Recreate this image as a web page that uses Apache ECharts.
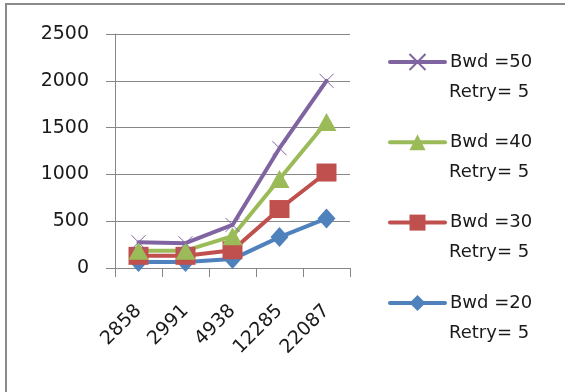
<!DOCTYPE html>
<html>
<head>
<meta charset="utf-8">
<script src="https://cdn.jsdelivr.net/npm/echarts@6/dist/echarts.min.js"></script>
<style>
  html, body { margin: 0; padding: 0; background: #fff; }
  #chart { width: 565px; height: 392px; }
</style>
</head>
<body>
<div id="chart"></div>
<script>
// Packet sizes on the x axis
const categories = ['2858', '2991', '4938', '12285', '22087'];

// One series per bandwidth setting (retry fixed at 5)
const bwd20 = [65, 65, 95, 330, 530];
const bwd30 = [130, 130, 190, 630, 1020];
const bwd40 = [185, 185, 340, 950, 1560];
const bwd50 = [275, 265, 460, 1280, 2000];

const seriesNames = ['Bwd =20', 'Bwd =30', 'Bwd =40', 'Bwd =50'];
const legendOrder = ['Bwd =50', 'Bwd =40', 'Bwd =30', 'Bwd =20'];
const retryLabel = 'Retry= 5';

const yTicks = { min: 0, max: 2500, interval: 500 };

const FONT = 'DejaVu Sans';
const TEXT_COLOR = '#1a1a1a';
const crossPath = 'path://M0,0L10,10M10,0L0,10';

function lineSeries(name, data, color, symbol, size, extra) {
  return Object.assign({
    name: name,
    type: 'line',
    data: data,
    symbol: symbol,
    symbolSize: size,
    showAllSymbol: true,
    lineStyle: { color: color, width: 4, cap: 'round' },
    itemStyle: { color: color, borderColor: color, borderWidth: 0 },
    emphasis: { disabled: true },
    animation: false
  }, extra || {});
}

const chart = echarts.init(document.getElementById('chart'), null, { renderer: 'canvas' });

// second line of every legend entry
const retryTexts = legendOrder.map(function (n, i) {
  return {
    type: 'text',
    left: 449,
    top: 83 + i * 80.3,
    style: { text: retryLabel, font: '18px "' + FONT + '"', fill: TEXT_COLOR }
  };
});

chart.setOption({
  backgroundColor: '#ffffff',
  animation: false,
  grid: { left: 115, right: 215, top: 34, bottom: 124, containLabel: false },
  xAxis: {
    type: 'category',
    data: categories,
    boundaryGap: true,
    axisLine: { show: true, lineStyle: { color: '#878787', width: 1 } },
    axisTick: { show: true, length: 9, alignWithLabel: false, lineStyle: { color: '#878787' } },
    axisLabel: {
      rotate: 45, margin: 40, interval: 0,
      fontFamily: FONT, fontSize: 19, color: TEXT_COLOR
    },
    splitLine: { show: false }
  },
  yAxis: {
    type: 'value',
    min: yTicks.min, max: yTicks.max, interval: yTicks.interval,
    axisLine: { show: true, lineStyle: { color: '#878787', width: 1 } },
    axisTick: { show: true, length: 9, lineStyle: { color: '#878787' } },
    axisLabel: {
      margin: 26, fontFamily: FONT, fontSize: 19, color: TEXT_COLOR,
      formatter: function (v) { return String(v); }
    },
    splitLine: { show: true, lineStyle: { color: '#878787', width: 1 } }
  },
  legend: {
    orient: 'vertical',
    left: 388,
    top: 52,
    padding: 0,
    itemWidth: 55,
    itemHeight: 20,
    itemGap: 60.3,
    data: legendOrder,
    lineStyle: { width: 4, cap: 'round' },
    textStyle: { fontFamily: FONT, fontSize: 18, color: TEXT_COLOR, lineHeight: 20 },
    selectedMode: false
  },
  graphic: [
    {
      type: 'rect',
      shape: { x: 6, y: 4, width: 700, height: 500 },
      style: { fill: 'none', stroke: '#8a8a8a', lineWidth: 2 },
      silent: true,
      z: -1
    }
  ].concat(retryTexts),
  series: [
    lineSeries(seriesNames[0], bwd20, '#4F81BD', 'diamond', [18, 20]),
    lineSeries(seriesNames[1], bwd30, '#C0504D', 'rect', [20, 18]),
    lineSeries(seriesNames[2], bwd40, '#9BBB59', 'triangle', [20, 18]),
    lineSeries(seriesNames[3], bwd50, '#8064A2', crossPath, [14, 14], {
      itemStyle: { color: '#8064A2', borderColor: '#8064A2', borderWidth: 1 }
    })
  ]
});
</script>
</body>
</html>
